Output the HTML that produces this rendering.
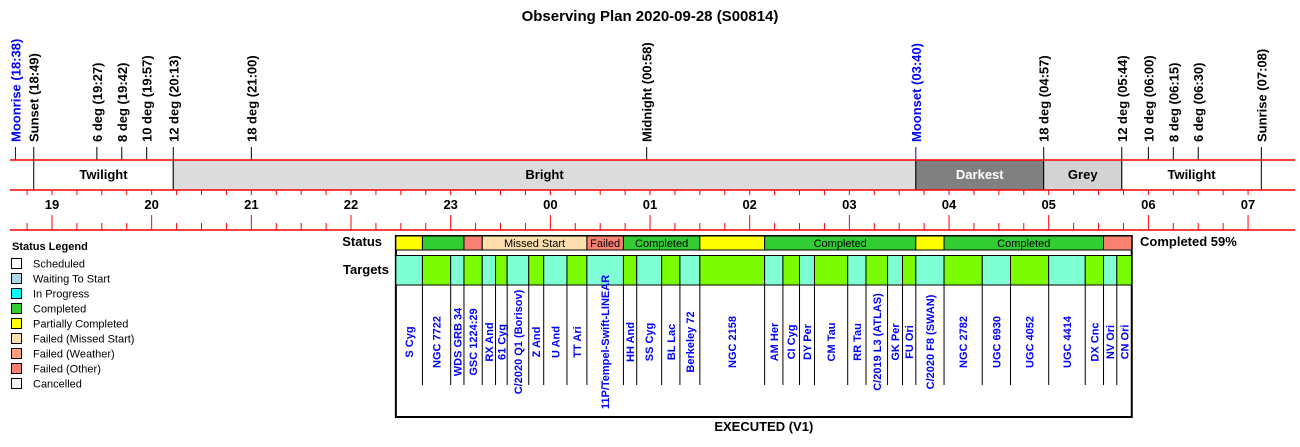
<!DOCTYPE html>
<html><head><meta charset="utf-8"><style>
html,body{margin:0;padding:0;background:#fff;}
svg{display:block;font-family:"Liberation Sans",Arial,sans-serif;}
</style></head><body>
<svg id="chart" width="1300" height="447" viewBox="0 0 1300 447" xmlns="http://www.w3.org/2000/svg">
<text x="650" y="21" text-anchor="middle" font-size="15" font-weight="bold">Observing Plan 2020-09-28 (S00814)</text>
<g id="events"></g><g id="band"></g><g id="axis"></g><g id="legend"></g><g id="plan"></g>
</svg>
<script>
// minutes after 18:00
const eventNames = ["Moonrise (18:38)","Sunset (18:49)","6 deg (19:27)","8 deg (19:42)","10 deg (19:57)","12 deg (20:13)","18 deg (21:00)","Midnight (00:58)","Moonset (03:40)","18 deg (04:57)","12 deg (05:44)","10 deg (06:00)","8 deg (06:15)","6 deg (06:30)","Sunrise (07:08)"];
const eventTimes = [38,49,87,102,117,133,180,418,580,657,704,720,735,750,788];
const eventBlue = [1,0,0,0,0,0,0,0,1,0,0,0,0,0,0];
const bandNames = ["Twilight","Bright","Darkest","Grey","Twilight"];
const bandStart = [49,133,580,657,704];
const bandEnd = [133,580,657,704,788];
const bandColors = ["#ffffff","#dcdcdc","#808080","#d3d3d3","#ffffff"];
const hourLabels = ["19","20","21","22","23","00","01","02","03","04","05","06","07"];
const targetNames = ["S Cyg","NGC 7722","WDS GRB 34","GSC 1224:29","RX And","61 Cyg","C/2020 Q1 (Borisov)","Z And","U And","TT Ari","11P/Tempel-Swift-LINEAR","HH And","SS Cyg","BL Lac","Berkeley 72","NGC 2158","AM Her","CI Cyg","DY Per","CM Tau","RR Tau","C/2019 L3 (ATLAS)","GK Per","FU Ori","C/2020 F8 (SWAN)","NGC 2782","UGC 6930","UGC 4052","UGC 4414","DX Cnc","NV Ori","CN Ori"];
const targetBounds = [267,283,300,308,319,327,334,347,356,370,382,404,412,427,438,450,489,500,510,519,539,550,563,572,580,597,620,637,660,682,693,701,710];
const statusLabels = ["","","","Missed Start","Failed","Completed","","Completed","","Completed",""];
const statusFrom = [0,1,3,4,10,11,15,16,24,25,30];
const statusTo = [1,3,4,10,11,15,16,24,25,30,32];
const statusColors = ["#ffff00","#32cd32","#fa8072","#ffdead","#fa8072","#32cd32","#ffff00","#32cd32","#ffff00","#32cd32","#fa8072"];
const legendNames = ["Scheduled","Waiting To Start","In Progress","Completed","Partially Completed","Failed (Missed Start)","Failed (Weather)","Failed (Other)","Cancelled"];
const legendColors = ["#ffffff","#add8e6","#00ffff","#32cd32","#ffff00","#ffdead","#ffa07a","#fa8072","#f5f5f5"];

const NS="http://www.w3.org/2000/svg";
const X0=52, PPH=99.67;
const YB1=160, YB2=190, YA=230;
function xs(m){return X0+(m-60)/60*PPH;}
function mk(parent,tag,attrs,txt){const e=document.createElementNS(NS,tag);for(const k in attrs)e.setAttribute(k,attrs[k]);if(txt!==undefined)e.textContent=txt;parent.appendChild(e);return e;}
const gE=document.getElementById('events'),gB=document.getElementById('band'),gA=document.getElementById('axis'),gL=document.getElementById('legend'),gP=document.getElementById('plan');

// band
bandNames.forEach((n,i)=>{
  const x1=xs(bandStart[i]),x2=xs(bandEnd[i]);
  const r=mk(gB,'rect',{x:x1,y:YB1,width:x2-x1,height:YB2-YB1,fill:bandColors[i],stroke:'#000','stroke-width':1});
  
  
  const t=mk(gB,'text',{x:(x1+x2)/2,y:179,'text-anchor':'middle','font-size':13,'font-weight':'bold',fill:i==2?'#fff':'#000'},n);
  
  
});
[YB1,YB2,YA].forEach(y=>{const l=mk(gB,'line',{x1:10,x2:1295,y1:y,y2:y,stroke:'#ff0000','stroke-width':1.5});
  
  });

// events
eventNames.forEach((n,i)=>{
  const x=xs(eventTimes[i]);const c=eventBlue[i]?'#0000ff':'#000';
  const l=mk(gE,'line',{x1:x,x2:x,y1:147,y2:YB1,stroke:c,'stroke-width':1});
  
  
  const t=mk(gE,'text',{x:x+5,y:142,transform:`rotate(-90 ${x+5} 142)`,'font-size':13,'font-weight':'bold',fill:c},n);
  
  
});

// axis
for(let q=0;q<=52;q++){
  const m=60+(q-4)*15; const x=xs(m); if(x<10||x>1295)continue;
  const major=q%4==0;
  const a=mk(gA,'line',{x1:x,x2:x,y1:YB2,y2:YB2+5,stroke:'#ff0000'});
  
  
  const b=mk(gA,'line',{x1:x,x2:x,y1:major?215:223,y2:YA,stroke:'#ff0000'});
  
  
}
hourLabels.forEach((h,i)=>{
  const t=mk(gA,'text',{x:xs(120+i*60-60),y:209,'text-anchor':'middle','font-size':13,'font-weight':'bold'},h);
  
  
});

// legend
const lt=mk(gL,'text',{x:12,y:250,'font-size':11,'font-weight':'bold'},'Status Legend');


legendNames.forEach((n,i)=>{
  const y=258+i*15;
  const r=mk(gL,'rect',{x:11.5,y:y+0.5,width:10,height:10,fill:legendColors[i],stroke:'#000'});
  
  
  const t=mk(gL,'text',{x:33,y:y+9.5,'font-size':11},n);
  
  
});

// plan
const sl=mk(gP,'text',{x:382,y:246,'text-anchor':'end','font-size':13,'font-weight':'bold'},'Status');


const tl=mk(gP,'text',{x:389,y:274,'text-anchor':'end','font-size':13,'font-weight':'bold'},'Targets');


const bx1=xs(targetBounds[0]),bx2=xs(targetBounds[targetBounds.length-1]);
const box=mk(gP,'rect',{x:bx1,y:236,width:bx2-bx1,height:181,fill:'#fff',stroke:'#000','stroke-width':2});


statusColors.forEach((c,i)=>{
  const x1=xs(targetBounds[statusFrom[i]]),x2=xs(targetBounds[statusTo[i]]);
  const r=mk(gP,'rect',{x:x1,y:236,width:x2-x1,height:14,fill:c,stroke:'#000','stroke-width':1});
  
  
  if(statusLabels[i]){const t=mk(gP,'text',{x:(x1+x2)/2,y:247,'text-anchor':'middle','font-size':11},statusLabels[i]);
    
    }
});
targetNames.forEach((n,i)=>{
  const x1=xs(targetBounds[i]),x2=xs(targetBounds[i+1]);
  const r=mk(gP,'rect',{x:x1,y:255.5,width:x2-x1,height:29.5,fill:i%2?'#7cfc00':'#7fffd4',stroke:'#000','stroke-width':1});
  
  
  if(i>0){const l=mk(gP,'line',{x1:x1,x2:x1,y1:285,y2:385,stroke:'#000'});
    
    }
  const cx=(x1+x2)/2+4;
  const t=mk(gP,'text',{x:cx,y:342,transform:`rotate(-90 ${cx} 342)`,'text-anchor':'middle','font-size':11,'font-weight':'bold',fill:'#0000ff'},n);
  
  
});
const pc=mk(gP,'text',{x:1140,y:246,'font-size':13,'font-weight':'bold'},'Completed 59%');


const ex=mk(gP,'text',{x:(bx1+bx2)/2,y:431,'text-anchor':'middle','font-size':13,'font-weight':'bold'},'EXECUTED (V1)');


</script>
</body></html>
